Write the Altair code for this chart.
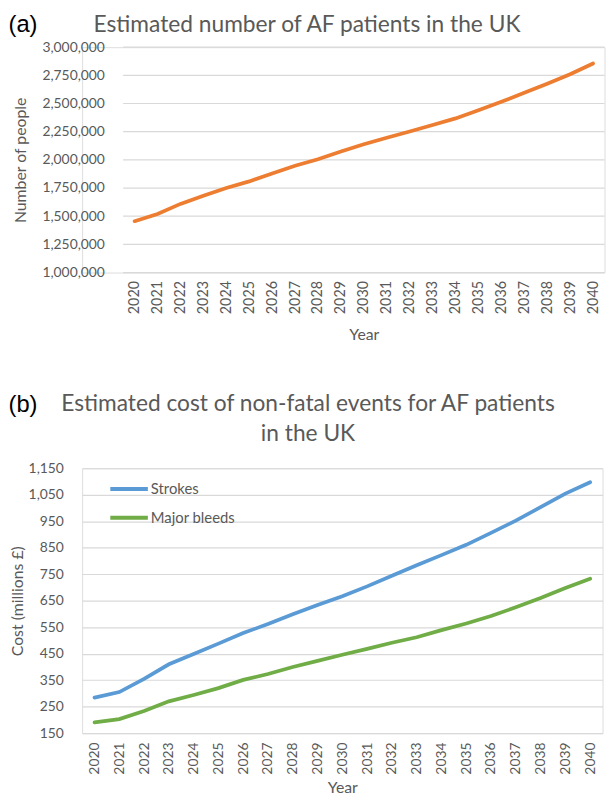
import altair as alt
import pandas as pd

# ---- data ----
years = ["2020", "2021", "2022", "2023", "2024", "2025", "2026", "2027", "2028", "2029", "2030",
         "2031", "2032", "2033", "2034", "2035", "2036", "2037", "2038", "2039", "2040"]
af_patients = [1456000, 1520000, 1609000, 1682000, 1750000, 1809000, 1880000, 1947000, 2006000,
               2074000, 2138000, 2197000, 2252000, 2310000, 2368000, 2440000, 2515000, 2595000,
               2675000, 2760000, 2855000]
stroke_cost = [284, 305, 355, 410, 449, 488, 528, 562, 599, 634, 667, 704, 744, 784, 822, 861,
               906, 952, 1003, 1054, 1097]
bleed_cost = [191, 203, 234, 270, 294, 320, 351, 373, 400, 423, 446, 468, 491, 512, 539, 564,
              592, 625, 660, 698, 733]
series_names = ["Strokes", "Major bleeds"]
series_colors = ["#5B9BD5", "#70AD47"]
a_ticks = [1000000, 1250000, 1500000, 1750000, 2000000, 2250000, 2500000, 2750000, 3000000]
b_ticks = [150, 250, 350, 450, 550, 650, 750, 850, 950, 1050, 1150]
title_a = "Estimated number of AF patients in the UK"
title_b = "Estimated cost of non-fatal events for AF patients\nin the UK"

FONT = "Lato"
GREY = "#595959"
GRID = "#D9D9D9"

# panel (a) plot starts this far right of the shared left edge of both panels
A_SHIFT = 41.5
A_WIDTH = 528.5

x_axis_common = dict(labelAngle=-90, ticks=False, domain=False, grid=False,
                     titleFontSize=16, labelColor=GREY, titleColor=GREY,
                     titleFontWeight="normal", labelFont=FONT, titleFont=FONT)
y_axis_common = dict(format=",.0f", ticks=False, domain=False, labelPadding=19,
                     gridColor=GRID, gridWidth=1.2, labelFontSize=14, titleFontSize=16,
                     labelColor=GREY, titleColor=GREY, titleFontWeight="normal",
                     labelFont=FONT, titleFont=FONT)


def text_layer(label, font, size, color, align, x, y, line_height=None):
    kw = dict(font=font, fontSize=size, color=color, align=align, baseline="alphabetic")
    if line_height is not None:
        kw.update(lineBreak="\n", lineHeight=line_height)
    return alt.Chart(pd.DataFrame({"t": [label]})).mark_text(**kw).encode(
        x=alt.value(x), y=alt.value(y), text="t:N")


# ---- chart (a) ----
df_a = pd.DataFrame({"Year": years, "Patients": af_patients})
df_a_grid = pd.DataFrame({"Patients": a_ticks})

y_a = alt.Y("Patients:Q", scale=alt.Scale(domain=[1000000, 3000000], nice=False, zero=False),
            axis=alt.Axis(title="Number of people", values=a_ticks, titlePadding=14,
                          offset=-A_SHIFT, grid=False, **y_axis_common))

grid_a = alt.Chart(df_a_grid).mark_rule(color=GRID, strokeWidth=1.2).encode(
    y=y_a, x=alt.value(A_SHIFT), x2=alt.value(A_WIDTH))

line_a = alt.Chart(df_a).mark_line(color="#ED7D31", strokeWidth=3.75, strokeCap="round").encode(
    x=alt.X("Year:O", scale=alt.Scale(type="point", padding=0.5, range=[A_SHIFT, A_WIDTH]),
            axis=alt.Axis(title="Year", labelPadding=8, titlePadding=13, labelFontSize=14.5,
                          titleX=(A_SHIFT + A_WIDTH) / 2, **x_axis_common)),
    y=y_a,
)

chart_a = alt.layer(
    grid_a,
    line_a,
    text_layer("(a)", "Liberation Sans", 24, "black", "left", -74.5, -15),
    text_layer(title_a, FONT, 23, GREY, "center", 227.5, -15),
).properties(width=A_WIDTH, height=228)

# ---- chart (b) ----
df_b = pd.DataFrame({
    "Year": years * 2,
    "Cost": stroke_cost + bleed_cost,
    "Series": [series_names[0]] * len(years) + [series_names[1]] * len(years),
})

line_b = alt.Chart(df_b).mark_line(strokeWidth=3.75, strokeCap="round").encode(
    x=alt.X("Year:O", scale=alt.Scale(type="point", padding=0.5),
            axis=alt.Axis(title="Year", labelPadding=9, titlePadding=6, labelFontSize=14,
                          **x_axis_common)),
    y=alt.Y("Cost:Q", scale=alt.Scale(domain=[150, 1150], nice=False, zero=False),
            axis=alt.Axis(title="Cost (millions £)", values=b_ticks, titlePadding=3,
                          **y_axis_common)),
    color=alt.Color("Series:N", scale=alt.Scale(domain=series_names, range=series_colors),
                    sort=series_names,
                    legend=alt.Legend(orient="none", legendX=26.5, legendY=426, title=None,
                                      symbolType="stroke", symbolSize=1444,
                                      symbolStrokeWidth=4, labelFontSize=15, labelColor=GREY,
                                      labelFont=FONT, rowPadding=-7, labelOffset=1, padding=0)),
)

chart_b = alt.layer(
    line_b,
    text_layer("(b)", "Liberation Sans", 24, "black", "left", -74.5, -56.5),
    text_layer(title_b, FONT, 23, GREY, "center", 228.5, -58, line_height=30),
).properties(width=526.5, height=268)

chart = alt.vconcat(chart_a, chart_b, spacing=49).properties(
    padding={"left": 0, "top": 0, "right": 0, "bottom": 0}
).configure_view(stroke=None).configure(font=FONT)

chart.save("out.html", embed_options={"renderer": "svg", "actions": False})
